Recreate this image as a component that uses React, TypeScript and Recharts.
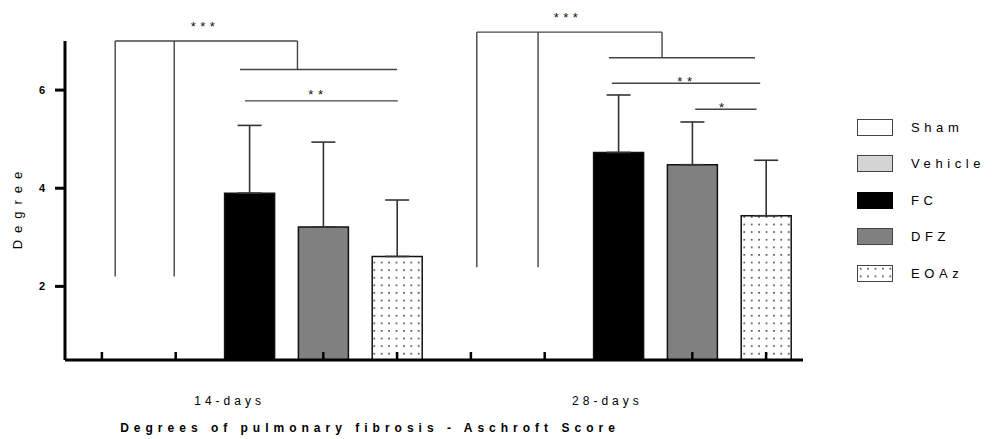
import React from "react";
import {
  BarChart,
  Bar,
  Cell,
  XAxis,
  YAxis,
  ErrorBar,
  ReferenceLine,
  ReferenceDot,
} from "recharts";

// groups and treatments, one bar per (group, treatment) slot along x
const groups = ["14-days", "28-days"];
const treatments = ["Sham", "Vehicle", "FC", "DFZ", "EOAz"];
const meanDay14 = [null, null, 3.9, 3.21, 2.61];
const sdDay14 = [null, null, 1.38, 1.73, 1.15];
const meanDay28 = [null, null, 4.73, 4.48, 3.44];
const sdDay28 = [null, null, 1.17, 0.87, 1.13];
const yTicks = [2, 4, 6];
const groupLabelPos = [1.73, 6.85];

// significance brackets: [x1, y1, x2, y2] in data units (x = slot index)
const bracketLines = [
  [0.18, 2.2, 0.18, 7.0],
  [0.98, 2.2, 0.98, 7.0],
  [0.18, 7.0, 2.65, 7.0],
  [2.65, 7.0, 2.65, 6.42],
  [1.87, 6.42, 4.0, 6.42],
  [1.94, 5.78, 4.01, 5.78],
  [5.08, 2.39, 5.08, 7.18],
  [5.91, 2.39, 5.91, 7.18],
  [5.08, 7.18, 7.59, 7.18],
  [7.59, 7.18, 7.59, 6.66],
  [6.87, 6.66, 8.85, 6.66],
  [6.91, 6.14, 8.92, 6.14],
  [8.04, 5.61, 8.87, 5.61],
];
const starX = [1.37, 2.9, 6.29, 7.9, 8.4];
const starY = [7.35, 5.96, 7.53, 6.22, 5.69];
const starText = ["***", "**", "***", "**", "*"];

const FONT = "'Liberation Sans', Arial, sans-serif";
const fills: Record<string, string> = {
  Sham: "#ffffff",
  Vehicle: "#d4d4d4",
  FC: "#000000",
  DFZ: "#808080",
  EOAz: "url(#dots)",
};

const rows = [meanDay14, meanDay28].flatMap((means, g) => {
  const sds = g === 0 ? sdDay14 : sdDay28;
  return treatments.map((t, i) => ({
    pos: g * treatments.length + i,
    treatment: t,
    mean: means[i],
    err: sds[i] == null ? null : [0, sds[i]],
  }));
});
const slotTicks = rows.map((r) => r.pos);

function DotsDef({ id }: { id: string }) {
  return (
    <defs>
      <pattern id={id} width={7.4} height={7.6} patternUnits="userSpaceOnUse">
        <rect width={7.4} height={7.6} fill="#fff" />
        <rect x={3} y={3} width={1.4} height={1.4} fill="#000" />
      </pattern>
    </defs>
  );
}

function Legend() {
  return (
    <div style={{ position: "absolute", left: 849, top: 101, fontFamily: FONT }}>
      {treatments.map((t) => (
        <div key={t} style={{ display: "flex", alignItems: "center", height: 36.5 }}>
          <svg width={36} height={17} style={{ display: "block" }}>
            <DotsDef id={"ldots-" + t} />
            <rect
              x={0.5}
              y={0.5}
              width={35}
              height={16}
              fill={t === "EOAz" ? "url(#ldots-EOAz)" : fills[t]}
              stroke={t === "FC" ? "#000" : "#444"}
              strokeWidth={1}
            />
          </svg>
          <span style={{ marginLeft: 18, fontSize: 13, letterSpacing: 4.6, color: "#000", whiteSpace: "nowrap" }}>
            {t}
          </span>
        </div>
      ))}
    </div>
  );
}

export default function App() {
  return (
    <div style={{ position: "relative", width: 984, height: 431 }}>
      <BarChart
        width={984}
        height={431}
        data={rows}
        margin={{ top: 33, right: 189, bottom: 0, left: 0 }}
      >
        <DotsDef id="dots" />
        <XAxis
          dataKey="pos"
          type="number"
          domain={[-0.5, 9.5]}
          ticks={slotTicks}
          tickFormatter={() => ""}
          tickSize={-8}
          height={10}
          axisLine={{ stroke: "#000", strokeWidth: 3 }}
          tickLine={{ stroke: "#000", strokeWidth: 2.5 }}
        />
        <XAxis
          xAxisId="labels"
          dataKey="pos"
          type="number"
          domain={[-0.5, 9.5]}
          allowDataOverflow
          ticks={groupLabelPos}
          tickFormatter={(v: number) => groups[groupLabelPos.indexOf(v)] ?? ""}
          axisLine={false}
          tickLine={false}
          tickMargin={20}
          height={69}
          tick={{ fill: "#000", fontSize: 12, fontFamily: FONT, letterSpacing: 4 }}
          label={{
            content: () => (
              <text
                x={362}
                y={424}
                textAnchor="middle"
                fontFamily={FONT}
                fontSize={12}
                fontWeight="bold"
                letterSpacing={5}
                fill="#000"
              >
                Degrees of pulmonary fibrosis - Aschroft Score
              </text>
            ),
          }}
        />
        <YAxis
          type="number"
          domain={[0.5, 7]}
          allowDataOverflow
          ticks={yTicks}
          width={57}
          tickSize={10}
          tickMargin={10}
          axisLine={{ stroke: "#000", strokeWidth: 3 }}
          tickLine={{ stroke: "#000", strokeWidth: 3 }}
          tick={{ fill: "#000", fontSize: 11, fontWeight: "bold", fontFamily: FONT }}
          label={{
            content: () => (
              <text
                transform="translate(14, 199) rotate(-90)"
                textAnchor="middle"
                fontFamily={FONT}
                fontSize={13}
                letterSpacing={7}
                fill="#000"
              >
                Degree
              </text>
            ),
          }}
        />
        {bracketLines.map((b, i) => (
          <ReferenceLine
            key={"br" + i}
            segment={[
              { x: b[0], y: b[1] },
              { x: b[2], y: b[3] },
            ]}
            stroke="#444"
            strokeWidth={1.4}
            ifOverflow="visible"
          />
        ))}
        {starText.map((s, i) => (
          <ReferenceDot
            key={"st" + i}
            x={starX[i]}
            y={starY[i]}
            r={0}
            ifOverflow="visible"
            shape={(p: any) => (
              <text
                x={p.cx + 2}
                y={p.cy + 7}
                textAnchor="middle"
                fontFamily={FONT}
                fontSize={13}
                letterSpacing={4.5}
                fill="#111"
              >
                {s}
              </text>
            )}
          />
        ))}
        <Bar
          dataKey="mean"
          barSize={50}
          stroke="#111"
          strokeWidth={1.5}
          isAnimationActive={false}
        >
          {rows.map((r) => (
            <Cell key={r.pos} fill={fills[r.treatment]} />
          ))}
          <ErrorBar
            dataKey="err"
            direction="y"
            width={12}
            stroke="#333"
            strokeWidth={1.6}
            isAnimationActive={false}
          />
        </Bar>
      </BarChart>
      <Legend />
    </div>
  );
}
